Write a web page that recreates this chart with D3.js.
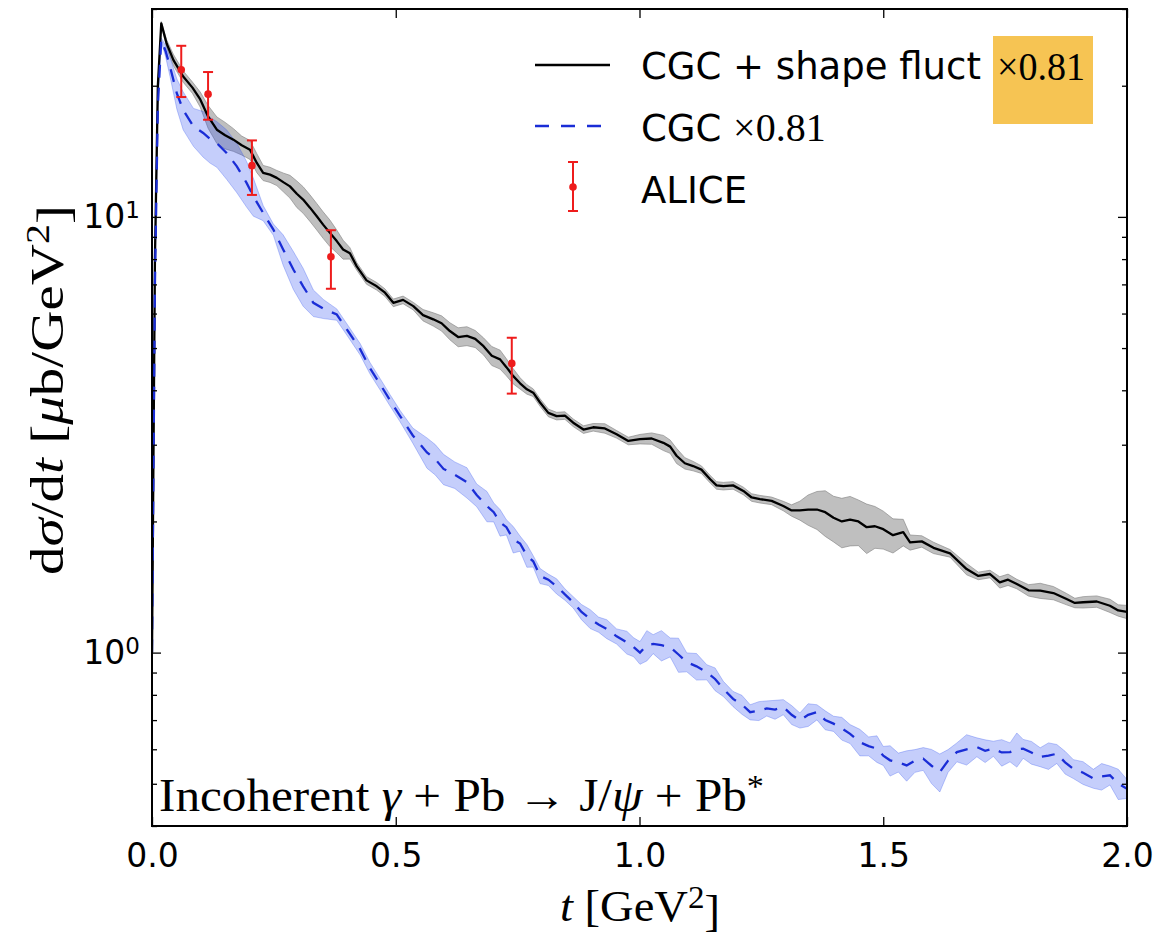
<!DOCTYPE html>
<html>
<head>
<meta charset="utf-8">
<script src="https://cdn.jsdelivr.net/npm/d3@7"></script>
<style>
  html, body { margin: 0; padding: 0; background: #ffffff; }
  svg { display: block; }
</style>
</head>
<body>
<div id="chart"></div>
<script>
// ---------------- DATA ----------------
const xTicks = [0.0, 0.5, 1.0, 1.5, 2.0];
const yMajor = [1, 10];
const yMinor = [0.4, 0.5, 0.6, 0.7, 0.8, 0.9, 2, 3, 4, 5, 6, 7, 8, 9, 20, 30];

const legendLabels = ["CGC + shape fluct", "CGC", "ALICE"];
const scaleLabel = "×0.81";

// CGC + shape fluctuations (x0.81): t, value, relative band half-width
const tBlack = [0.000,0.006,0.012,0.019,0.030,0.044,0.064,0.083,0.099,0.115,0.133,0.150,0.167,0.184,0.201,0.215,0.228,0.242,0.256,0.270,0.283,0.297,0.310,0.324,0.338,0.351,0.365,0.379,0.392,0.406,0.420,0.440,0.461,0.478,0.495,0.515,0.536,0.556,0.577,0.594,0.611,0.628,0.646,0.663,0.680,0.697,0.714,0.727,0.741,0.755,0.769,0.782,0.796,0.813,0.830,0.847,0.864,0.885,0.905,0.929,0.953,0.977,1.001,1.025,1.049,1.063,1.076,1.093,1.110,1.127,1.145,1.158,1.172,1.192,1.213,1.230,1.247,1.271,1.295,1.312,1.329,1.346,1.364,1.381,1.398,1.415,1.432,1.449,1.466,1.483,1.500,1.520,1.541,1.555,1.579,1.603,1.637,1.671,1.695,1.719,1.739,1.756,1.774,1.798,1.822,1.849,1.876,1.893,1.910,1.938,1.965,1.982,2.000];
const vBlack = [1.0,8.0,20.0,27.8,25.0,22.9,21.0,19.8,18.6,17.0,15.85,15.4,15.04,14.6,14.26,13.3,12.62,12.5,12.29,12.0,11.75,11.3,10.96,10.5,10.03,9.6,9.19,8.8,8.42,8.25,7.70,7.15,6.93,6.7,6.35,6.45,6.24,5.95,5.82,5.7,5.47,5.3,5.33,5.25,5.05,4.8,4.71,4.52,4.31,4.15,4.02,3.95,3.75,3.55,3.49,3.5,3.37,3.25,3.29,3.27,3.17,3.06,3.09,3.1,3.03,2.97,2.83,2.72,2.68,2.63,2.50,2.42,2.41,2.42,2.35,2.27,2.25,2.23,2.17,2.12,2.12,2.13,2.13,2.10,2.04,2.00,2.02,2.00,1.94,1.95,1.92,1.86,1.89,1.79,1.80,1.74,1.69,1.555,1.50,1.515,1.45,1.47,1.437,1.39,1.387,1.37,1.327,1.30,1.305,1.31,1.281,1.25,1.24];
const eBlack = [0.01,0.01,0.01,0.01,0.02,0.03,0.03,0.03,0.04,0.06,0.07,0.07,0.06,0.05,0.05,0.05,0.04,0.04,0.04,0.05,0.06,0.07,0.07,0.07,0.07,0.07,0.07,0.06,0.05,0.03,0.02,0.02,0.02,0.02,0.02,0.02,0.02,0.03,0.035,0.04,0.045,0.05,0.05,0.045,0.045,0.05,0.05,0.045,0.04,0.03,0.025,0.02,0.02,0.02,0.02,0.02,0.02,0.02,0.02,0.025,0.02,0.02,0.025,0.03,0.04,0.035,0.04,0.03,0.025,0.02,0.02,0.02,0.02,0.02,0.02,0.02,0.02,0.02,0.025,0.03,0.05,0.08,0.10,0.12,0.12,0.13,0.13,0.12,0.13,0.11,0.10,0.09,0.07,0.04,0.03,0.03,0.02,0.03,0.02,0.02,0.03,0.03,0.025,0.03,0.04,0.035,0.03,0.025,0.03,0.03,0.035,0.03,0.035];

// CGC (x0.81): t, value, relative band half-width
const tBlue = [0.000,0.006,0.012,0.019,0.028,0.037,0.051,0.064,0.085,0.105,0.119,0.133,0.153,0.174,0.194,0.208,0.228,0.249,0.269,0.290,0.310,0.331,0.352,0.379,0.403,0.427,0.447,0.468,0.488,0.509,0.535,0.564,0.581,0.598,0.621,0.646,0.666,0.687,0.701,0.714,0.727,0.741,0.755,0.769,0.782,0.796,0.813,0.830,0.847,0.864,0.881,0.899,0.916,0.933,0.953,0.974,0.988,1.001,1.015,1.028,1.045,1.063,1.080,1.097,1.117,1.138,1.155,1.172,1.192,1.210,1.227,1.245,1.261,1.278,1.295,1.312,1.329,1.346,1.364,1.381,1.398,1.415,1.432,1.452,1.470,1.487,1.500,1.514,1.531,1.548,1.565,1.582,1.599,1.616,1.633,1.651,1.671,1.692,1.709,1.726,1.743,1.760,1.774,1.787,1.804,1.822,1.839,1.856,1.873,1.890,1.910,1.931,1.948,1.965,1.982,2.000];
const vBlue = [1.0,7.0,18.0,25.5,24.0,22.1,19.2,17.6,16.13,15.58,15.1,14.77,14.02,13.06,11.97,11.15,10.21,9.35,8.42,7.57,6.93,6.35,6.15,5.97,5.45,4.97,4.5,4.13,3.8,3.49,3.15,2.88,2.78,2.64,2.56,2.46,2.30,2.17,2.10,1.99,1.94,1.82,1.78,1.67,1.62,1.50,1.47,1.42,1.36,1.305,1.24,1.195,1.16,1.133,1.09,1.056,1.03,1.0,1.04,1.047,1.04,1.029,0.99,0.951,0.93,0.902,0.87,0.826,0.783,0.76,0.730,0.735,0.745,0.74,0.750,0.72,0.699,0.72,0.730,0.70,0.687,0.67,0.651,0.623,0.61,0.602,0.58,0.566,0.56,0.551,0.565,0.571,0.55,0.532,0.565,0.591,0.60,0.607,0.595,0.602,0.59,0.591,0.60,0.602,0.59,0.576,0.58,0.586,0.56,0.541,0.53,0.514,0.52,0.523,0.50,0.487];
const eBlue = [0.01,0.01,0.01,0.01,0.03,0.05,0.08,0.10,0.10,0.12,0.12,0.12,0.13,0.13,0.12,0.10,0.04,0.03,0.08,0.10,0.10,0.07,0.05,0.03,0.03,0.03,0.03,0.03,0.03,0.03,0.04,0.08,0.08,0.08,0.07,0.08,0.06,0.08,0.05,0.07,0.04,0.07,0.04,0.06,0.03,0.04,0.03,0.04,0.03,0.03,0.04,0.05,0.04,0.05,0.04,0.06,0.05,0.06,0.08,0.05,0.08,0.05,0.09,0.05,0.07,0.04,0.06,0.04,0.04,0.05,0.04,0.05,0.04,0.05,0.04,0.05,0.04,0.06,0.04,0.05,0.04,0.06,0.05,0.07,0.05,0.07,0.05,0.08,0.05,0.08,0.06,0.06,0.09,0.10,0.06,0.05,0.08,0.05,0.06,0.04,0.07,0.05,0.09,0.05,0.06,0.05,0.07,0.05,0.06,0.05,0.06,0.05,0.07,0.05,0.08,0.05];

// ALICE data points
const aliceT  = [0.060, 0.115, 0.205, 0.367, 0.738];
const aliceV  = [21.75, 19.13, 13.11, 8.10, 4.61];
const aliceLo = [18.84, 16.71, 11.23, 6.84, 3.93];
const aliceHi = [24.70, 21.50, 14.98, 9.32, 5.28];

// ---------------- LAYOUT ----------------
const W = 1161, H = 944;
const L = 152, R = 1127, T = 9, B = 826;

const svg = d3.select("#chart").append("svg")
  .attr("width", W).attr("height", H)
  .style("background", "#fff");

const x = d3.scaleLinear().domain([0, 2]).range([L, R]);
const y = d3.scaleLog().domain([0.4, 30]).range([B, T]);

svg.append("defs").append("clipPath").attr("id", "clip")
  .append("rect").attr("x", L).attr("y", T).attr("width", R - L).attr("height", B - T);

const plot = svg.append("g").attr("clip-path", "url(#clip)");

const blackData = tBlack.map((t, i) => ({t, v: vBlack[i], lo: vBlack[i] * (1 - eBlack[i]), hi: vBlack[i] * (1 + eBlack[i])}));
const blueData = tBlue.map((t, i) => ({t, v: vBlue[i], lo: vBlue[i] * (1 - eBlue[i]), hi: vBlue[i] * (1 + eBlue[i])}));

const area = d3.area().x(d => x(d.t)).y0(d => y(d.lo)).y1(d => y(d.hi));
const line = d3.line().x(d => x(d.t)).y(d => y(d.v));

// bands
plot.append("path").datum(blackData).attr("d", area)
  .attr("fill", "rgb(128,128,128)").attr("fill-opacity", 0.5)
  .attr("stroke", "rgb(128,128,128)").attr("stroke-opacity", 0.6).attr("stroke-width", 1);
plot.append("path").datum(blueData).attr("d", area)
  .attr("fill", "#3050f0").attr("fill-opacity", 0.28)
  .attr("stroke", "#3050f0").attr("stroke-opacity", 0.3).attr("stroke-width", 1);

// lines
plot.append("path").datum(blackData).attr("d", line)
  .attr("fill", "none").attr("stroke", "#000").attr("stroke-width", 2.3)
  .attr("stroke-linejoin", "round");
plot.append("path").datum(blueData).attr("d", line)
  .attr("fill", "none").attr("stroke", "#1a2dd6").attr("stroke-width", 2.3)
  .attr("stroke-dasharray", "13,10");

// ALICE error bars
const red = "#ee1c1c";
const ag = plot.append("g");
aliceT.forEach((t, i) => {
  const cx = x(t);
  ag.append("line").attr("x1", cx).attr("x2", cx).attr("y1", y(aliceLo[i])).attr("y2", y(aliceHi[i]))
    .attr("stroke", red).attr("stroke-width", 2);
  [aliceLo[i], aliceHi[i]].forEach(v => {
    ag.append("line").attr("x1", cx - 5).attr("x2", cx + 5).attr("y1", y(v)).attr("y2", y(v))
      .attr("stroke", red).attr("stroke-width", 2);
  });
  ag.append("circle").attr("cx", cx).attr("cy", y(aliceV[i])).attr("r", 3.8).attr("fill", red);
});

// ---------------- AXES ----------------
const tickFont = "'DejaVu Sans', sans-serif";

const gx = svg.append("g").attr("transform", `translate(0,${B})`)
  .call(d3.axisBottom(x).tickValues(xTicks).tickSize(-9).tickPadding(18).tickFormat(d3.format(".1f")));
const gxTop = svg.append("g").attr("transform", `translate(0,${T})`)
  .call(d3.axisTop(x).tickValues(xTicks).tickSize(-9).tickFormat(""));

const gy = svg.append("g").attr("transform", `translate(${L},0)`)
  .call(d3.axisLeft(y).tickValues(yMajor).tickSize(-9).tickPadding(12).tickFormat(() => ""));
const gyMin = svg.append("g").attr("transform", `translate(${L},0)`)
  .call(d3.axisLeft(y).tickValues(yMinor).tickSize(-5).tickFormat(() => ""));
const gyR = svg.append("g").attr("transform", `translate(${R},0)`)
  .call(d3.axisRight(y).tickValues(yMajor).tickSize(-9).tickFormat(() => ""));
const gyRMin = svg.append("g").attr("transform", `translate(${R},0)`)
  .call(d3.axisRight(y).tickValues(yMinor).tickSize(-5).tickFormat(() => ""));

[gx, gxTop, gy, gyMin, gyR, gyRMin].forEach(g => {
  g.select(".domain").remove();
  g.selectAll(".tick line").attr("stroke", "#000").attr("stroke-width", 1.3);
});
gx.selectAll(".tick text").attr("font-family", tickFont).attr("font-size", 33).attr("fill", "#000");

gy.selectAll(".tick text").each(function(d) {
  const t = d3.select(this);
  t.text(null).attr("font-family", tickFont).attr("font-size", 33).attr("fill", "#000");
  t.append("tspan").text("10");
  t.append("tspan").attr("dy", "-0.42em").attr("font-size", 23).text(String(Math.round(Math.log10(d))));
});

// frame
svg.append("rect").attr("x", L).attr("y", T).attr("width", R - L).attr("height", B - T)
  .attr("fill", "none").attr("stroke", "#000").attr("stroke-width", 2);

// ---------------- LABELS ----------------
const serif = "'Liberation Serif', 'Times New Roman', serif";

// y label
const yl = svg.append("text")
  .attr("transform", "translate(63,390) rotate(-90)")
  .attr("text-anchor", "middle").attr("font-family", serif).attr("font-size", 47)
  .attr("textLength", 370).attr("lengthAdjust", "spacingAndGlyphs").attr("fill", "#000");
yl.append("tspan").text("d");
yl.append("tspan").attr("font-style", "italic").text("σ");
yl.append("tspan").text("/d");
yl.append("tspan").attr("font-style", "italic").text("t");
yl.append("tspan").text(" [");
yl.append("tspan").attr("font-style", "italic").text("μ");
yl.append("tspan").text("b/GeV");
yl.append("tspan").attr("dy", "-0.42em").attr("font-size", 33).text("2");
yl.append("tspan").attr("dy", "0.42em").text("]");

// x label
const xl = svg.append("text")
  .attr("x", 640).attr("y", 921)
  .attr("text-anchor", "middle").attr("font-family", serif).attr("font-size", 45)
  .attr("textLength", 160).attr("lengthAdjust", "spacingAndGlyphs").attr("fill", "#000");
xl.append("tspan").attr("font-style", "italic").text("t");
xl.append("tspan").text(" [GeV");
xl.append("tspan").attr("dy", "-0.42em").attr("font-size", 32).text("2");
xl.append("tspan").attr("dy", "0.42em").text("]");

// annotation
const an = svg.append("text")
  .attr("x", 159).attr("y", 811)
  .attr("font-family", serif).attr("font-size", 46)
  .attr("textLength", 605).attr("lengthAdjust", "spacingAndGlyphs").attr("fill", "#000");
an.append("tspan").text("Incoherent ");
an.append("tspan").attr("font-style", "italic").text("γ");
an.append("tspan").text(" + Pb → J/");
an.append("tspan").attr("font-style", "italic").text("ψ");
an.append("tspan").text(" + Pb");
an.append("tspan").attr("dy", "-0.45em").attr("font-size", 32).text("*");

// ---------------- LEGEND ----------------
const lg = svg.append("g");
const sans = "'DejaVu Sans', sans-serif";
// row 1
lg.append("line").attr("x1", 535).attr("x2", 610).attr("y1", 65).attr("y2", 65)
  .attr("stroke", "#000").attr("stroke-width", 2.3);
lg.append("text").attr("x", 641).attr("y", 79).attr("font-family", sans).attr("font-size", 37)
  .attr("fill", "#000").text(legendLabels[0]);
lg.append("rect").attr("x", 993).attr("y", 36).attr("width", 100).attr("height", 88).attr("fill", "#f6c453");
lg.append("text").attr("x", 997).attr("y", 80).attr("font-family", serif).attr("font-size", 40)
  .attr("textLength", 88).attr("lengthAdjust", "spacingAndGlyphs").attr("fill", "#000").text(scaleLabel);
// row 2
lg.append("line").attr("x1", 535).attr("x2", 610).attr("y1", 126).attr("y2", 126)
  .attr("stroke", "#1a2dd6").attr("stroke-width", 2.3).attr("stroke-dasharray", "14,12");
const r2 = lg.append("text").attr("x", 641).attr("y", 141).attr("fill", "#000");
r2.append("tspan").attr("font-family", sans).attr("font-size", 37).text(legendLabels[1] + " ");
r2.append("tspan").attr("font-family", serif).attr("font-size", 40).text(scaleLabel);
// row 3
lg.append("line").attr("x1", 573).attr("x2", 573).attr("y1", 162).attr("y2", 211)
  .attr("stroke", red).attr("stroke-width", 2);
[162, 211].forEach(v => lg.append("line").attr("x1", 568).attr("x2", 578).attr("y1", v).attr("y2", v)
  .attr("stroke", red).attr("stroke-width", 2));
lg.append("circle").attr("cx", 573).attr("cy", 187).attr("r", 3.8).attr("fill", red);
lg.append("text").attr("x", 641).attr("y", 203).attr("font-family", sans).attr("font-size", 37)
  .attr("fill", "#000").text(legendLabels[2]);
</script>
</body>
</html>
